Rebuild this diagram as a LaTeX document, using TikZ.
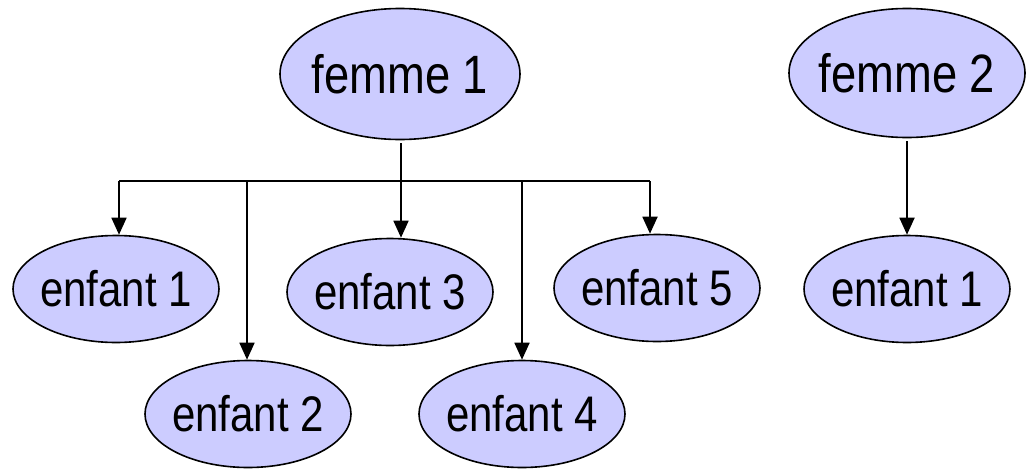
\documentclass[tikz,border=0pt]{standalone}
\usepackage{fontspec}
\newfontfamily\nodefont[FakeStretch=0.84]{Liberation Sans}
\usetikzlibrary{shapes.geometric,arrows.meta}
\definecolor{lav}{HTML}{CCCCFF}
\tikzset{
  oval/.style={ellipse, draw=black, line width=1.6pt, fill=lav, inner ysep=0pt, inner xsep=-12pt, font=\nodefont},
  fem/.style={oval, minimum width=240pt, minimum height=131pt, font=\nodefont\fontsize{54}{54}\selectfont},
  kid/.style={oval, minimum width=206pt, minimum height=107pt, font=\nodefont\fontsize{50}{50}\selectfont},
  wire/.style={line width=1.8pt},
  arr/.style={wire, -{Triangle[width=15pt,length=17pt]}}
}
\begin{document}
\begin{tikzpicture}[x=1pt,y=-1pt]
\useasboundingbox (0,0) rectangle (1026,469);
\node[fem] (f1) at (400,74) {femme 1};
\node[fem, minimum width=236pt, minimum height=129pt] (f2) at (907,73) {femme 2};
\node[kid] (e1) at (116,289) {enfant 1};
\node[kid] (e2) at (248,414) {enfant 2};
\node[kid] (e3) at (390,292) {enfant 3};
\node[kid] (e4) at (522,414) {enfant 4};
\node[kid] (e5) at (657,288) {enfant 5};
\node[kid] (g1) at (907,289) {enfant 1};
\coordinate (j) at (401,181);
\coordinate (l) at (119,181);
\coordinate (r) at (650,181);
\coordinate (j2) at (247,181);
\coordinate (j4) at (522,181);
\draw[wire, shorten <=3pt] (f1.south -| j) -- (j);
\draw[wire] (l) -- (r);
\draw[arr] (l) -- (l |- e1.north);
\draw[arr] (j2) -- (j2 |- e2.north);
\draw[arr] (j) -- (j |- e3.north);
\draw[arr] (j4) -- (j4 |- e4.north);
\draw[arr] (r) -- (r |- e5.north);
\draw[arr, shorten <=3pt] (f2.south -| g1.north) -- (g1.north);
\end{tikzpicture}
\end{document}
